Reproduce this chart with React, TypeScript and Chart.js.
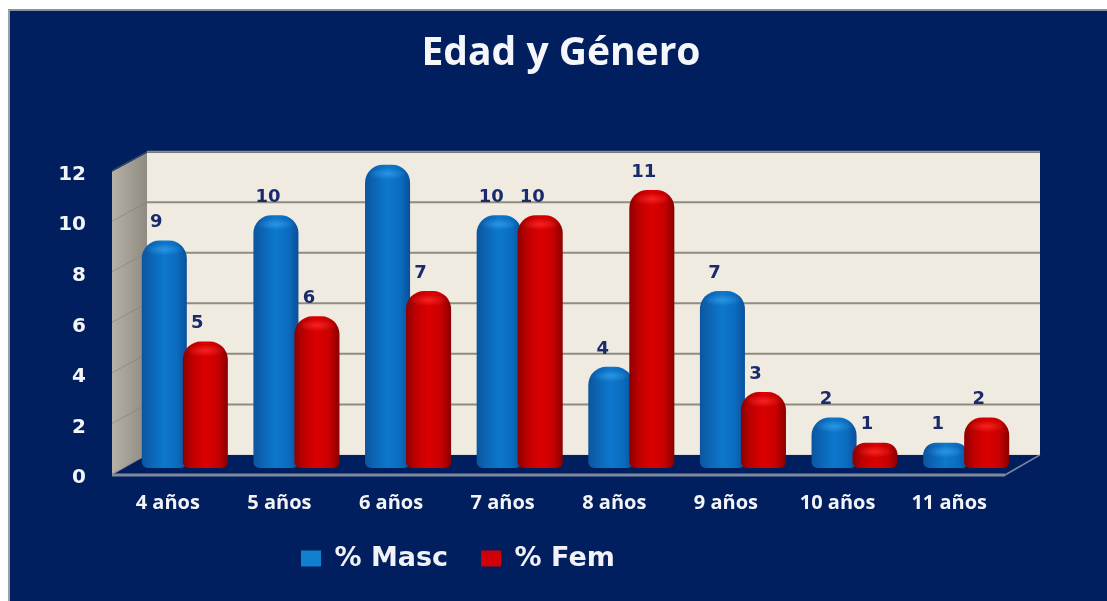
import React, { useEffect, useRef } from "react";
import { Chart, registerables } from "chart.js";

Chart.register(...registerables);

const categories = ["4 años", "5 años", "6 años", "7 años", "8 años", "9 años", "10 años", "11 años"];
const masc = [9, 10, 12, 10, 4, 7, 2, 1];
const fem = [5, 6, 7, 10, 11, 3, 1, 2];
const yTicks = [0, 2, 4, 6, 8, 10, 12];

const CAT_PCT = 0.735;
const BAR_PCT = 1.098;
const STOPS = [
  ["#0b559f", "#0b66b6", "#0d78cc", "#0b6cbe", "#0a4f9a"],
  ["#8c0000", "#c00000", "#dc0000", "#c80000", "#880000"],
];
const LEGEND_COLORS = ["#1180cf", "#d00008"];
const GLOW = ["rgba(50,160,235,0.75)", "rgba(255,50,50,0.7)"];
const NAVY = "#011e5e";

function barFill(ctx: any) {
  const di = ctx.datasetIndex;
  if (ctx.dataIndex === undefined) return STOPS[di][2];
  const x = ctx.chart.scales.x;
  const band = x.width / categories.length;
  const stack = (band * CAT_PCT) / 2;
  const w = stack * BAR_PCT;
  const c = x.getPixelForValue(ctx.dataIndex) + (di === 0 ? -stack / 2 : stack / 2);
  if (!Number.isFinite(c) || !Number.isFinite(w)) return STOPS[di][2];
  const g = ctx.chart.ctx.createLinearGradient(c - w / 2, 0, c + w / 2, 0);
  STOPS[di].forEach((s: string, i: number) => g.addColorStop([0, 0.22, 0.5, 0.78, 1][i], s));
  return g;
}

function drawDomes(chart: any, index: number) {
  const ctx = chart.ctx;
  const meta = chart.getDatasetMeta(index);
  meta.data.forEach((el: any) => {
    const cx = el.x;
    const cy = el.y + 9;
    const r = el.width * 0.42;
    ctx.save();
    ctx.translate(cx, cy);
    ctx.scale(1, 0.32);
    const g = ctx.createRadialGradient(0, 0, 0, 0, 0, r);
    g.addColorStop(0, GLOW[index]);
    g.addColorStop(1, GLOW[index].replace(/[\d.]+\)$/, "0)"));
    ctx.fillStyle = g;
    ctx.beginPath();
    ctx.arc(0, 0, r, 0, Math.PI * 2);
    ctx.fill();
    ctx.restore();
  });
}

const wallPlugin = {
  id: "wall",
  beforeDatasetsDraw(chart: any) {
    const { ctx, chartArea: a } = chart;
    const y = chart.scales.y;
    const back = 13;
    const d = 17;
    const zeroBack = y.getPixelForValue(0) - back;
    const wl = a.left + d + 1;
    const wr = a.right + d + 1;
    const fl = a.left - d;
    const fr = a.right - d;
    const fb = a.bottom;
    ctx.save();
    // back wall
    ctx.fillStyle = "#efebe1";
    ctx.fillRect(wl, a.top, wr - wl, zeroBack - a.top);
    // floor
    ctx.fillStyle = NAVY;
    ctx.beginPath();
    ctx.moveTo(wl, zeroBack);
    ctx.lineTo(wr, zeroBack);
    ctx.lineTo(fr, fb);
    ctx.lineTo(fl, fb);
    ctx.closePath();
    ctx.fill();
    // side wall
    const sideTop = a.top + 19;
    const side = ctx.createLinearGradient(fl, 0, wl, 0);
    side.addColorStop(0, "#b5b1a6");
    side.addColorStop(1, "#8f8b82");
    ctx.fillStyle = side;
    ctx.beginPath();
    ctx.moveTo(fl, sideTop);
    ctx.lineTo(wl, a.top);
    ctx.lineTo(wl, zeroBack);
    ctx.lineTo(fl, fb);
    ctx.closePath();
    ctx.fill();
    // gridlines
    yTicks.forEach((t) => {
      const p = y.getPixelForValue(t) - back;
      if (t > 0) {
        ctx.strokeStyle = "#8e8c7f";
        ctx.lineWidth = 2;
        ctx.beginPath();
        ctx.moveTo(wl, p);
        ctx.lineTo(wr, p);
        ctx.stroke();
      }
      ctx.strokeStyle = "rgba(125,122,112,0.55)";
      ctx.lineWidth = 1;
      ctx.beginPath();
      ctx.moveTo(fl, p + 19);
      ctx.lineTo(wl, p);
      ctx.stroke();
    });
    // floor edge
    ctx.strokeStyle = "#7f8a9f";
    ctx.lineWidth = 3;
    ctx.beginPath();
    ctx.moveTo(fl, fb);
    ctx.lineTo(fr, fb);
    ctx.stroke();
    ctx.lineWidth = 1.5;
    ctx.beginPath();
    ctx.moveTo(fr, fb);
    ctx.lineTo(wr, zeroBack);
    ctx.stroke();
    ctx.restore();
  },
  // The second series has to lie over the first where the bars overlap.
  beforeDatasetDraw(_chart: any, args: any) {
    if (args.index === 1) return false;
    return true;
  },
  afterDatasetDraw(chart: any, args: any) {
    if (args.index !== 0) return;
    drawDomes(chart, 0);
    chart.getDatasetMeta(1).controller.draw();
    drawDomes(chart, 1);
  },
  afterLayout(chart: any) {
    const a = chart.chartArea;
    const title = chart.titleBlock;
    title.left = 100;
    title.right = a.right;
    const legend = chart.legend;
    legend.left = 268;
    legend.right = 800;
    legend.top = 512;
  },
  afterDatasetsDraw(chart: any) {
    const { ctx, chartArea: a } = chart;
    ctx.save();
    ctx.fillStyle = "#1a2a6c";
    ctx.font = "bold 18px 'DejaVu Sans'";
    ctx.textAlign = "center";
    ctx.textBaseline = "middle";
    chart.data.datasets.forEach((ds: any, i: number) => {
      chart.getDatasetMeta(i).data.forEach((el: any, j: number) => {
        // Dark text meant for the wall: a label above the wall does not show.
        if (el.y - 18 < a.top) return;
        ctx.fillText(String(ds.data[j]), el.x - 8, el.y - 18);
      });
    });
    ctx.restore();
  },
};

export default function App() {
  const ref = useRef<HTMLCanvasElement>(null);
  useEffect(() => {
    const chart = new Chart(ref.current as HTMLCanvasElement, {
      type: "bar",
      data: {
        labels: categories,
        datasets: [
          { label: "% Masc", data: masc, backgroundColor: barFill },
          { label: "% Fem", data: fem, backgroundColor: barFill },
        ],
      },
      plugins: [wallPlugin],
      options: {
        responsive: false,
        animation: false,
        layout: { padding: { left: 16, right: 85, top: 0, bottom: 20 } },
        datasets: {
          bar: {
            categoryPercentage: CAT_PCT,
            barPercentage: BAR_PCT,
            borderRadius: { topLeft: 18, topRight: 18, bottomLeft: 6, bottomRight: 6 },
            borderSkipped: false,
          },
        },
        scales: {
          x: {
            grid: { display: false, drawTicks: false },
            border: { display: false },
            afterFit: (s: any) => { s.height = 61; },
            ticks: {
              color: "#f2f4f8",
              font: { family: "'Open Sans'", weight: "bold", size: 20 },
              padding: 16,
              labelOffset: -17,
              maxRotation: 0,
            },
          },
          y: {
            min: -0.28,
            max: 12.47,
            grid: { display: false, drawTicks: false },
            border: { display: false },
            afterFit: (s: any) => { s.width = 113; },
            afterBuildTicks: (s: any) => { s.ticks = yTicks.map((value) => ({ value })); },
            ticks: {
              color: "#f2f4f8",
              font: { family: "'DejaVu Sans'", weight: "bold", size: 20 },
              padding: 43,
              labelOffset: 10,
            },
          },
        },
        plugins: {
          tooltip: { enabled: false },
          title: {
            display: true,
            text: "Edad y Género",
            color: "#f4f6fa",
            font: { family: "'Open Sans'", weight: "bold", size: 39 },
            padding: { top: 30, bottom: 76 },
          },
          legend: {
            position: "bottom",
            align: "start",
            maxHeight: 45,
            labels: {
              color: "#f0f2f8",
              font: { family: "'DejaVu Sans'", weight: "bold", size: 27 },
              boxWidth: 20,
              boxHeight: 16,
              padding: 33,
              generateLabels: (chart: any) =>
                Chart.defaults.plugins.legend.labels
                  .generateLabels(chart)
                  .map((item: any, i: number) => ({ ...item, fillStyle: LEGEND_COLORS[i], strokeStyle: LEGEND_COLORS[i] })),
            },
          },
        },
      },
    } as any);
    return () => chart.destroy();
  }, []);
  return (
    <div style={{ position: "fixed", inset: 0, background: "#fff", overflow: "hidden" }}>
      <div
        style={{
          position: "absolute",
          left: 8,
          top: 9,
          right: 0,
          bottom: 0,
          background: NAVY,
          borderLeft: "2px solid #9aa0aa",
          borderTop: "2px solid #8a90a0",
          boxSizing: "border-box",
        }}
      />
      <canvas ref={ref} width={1107} height={601} style={{ position: "absolute", left: 0, top: 0, display: "block" }} />
    </div>
  );
}
